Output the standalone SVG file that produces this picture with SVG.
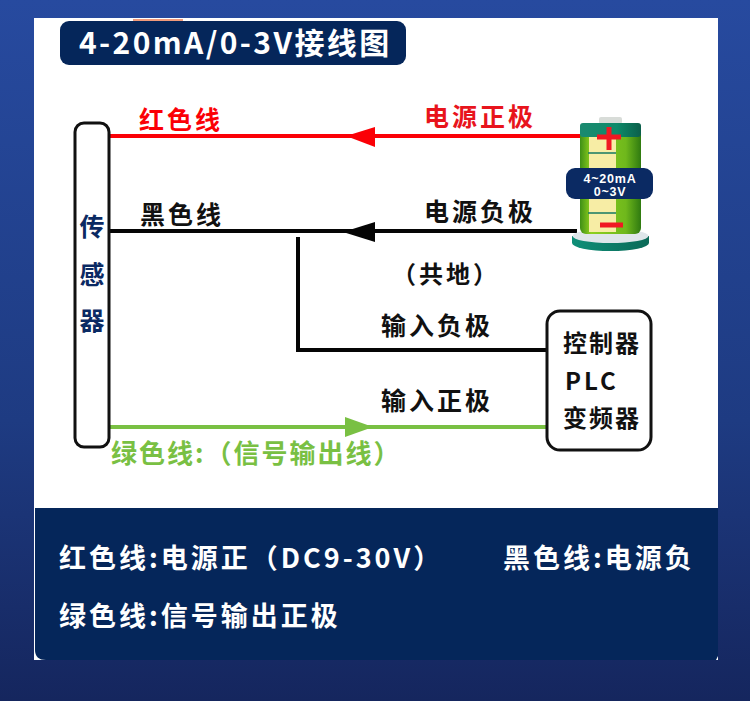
<svg xmlns="http://www.w3.org/2000/svg" width="750" height="701" viewBox="0 0 750 701">
<defs>
<linearGradient id="bg" x1="0" y1="0" x2="0" y2="1"><stop offset="0" stop-color="#274a9f"/><stop offset="0.6" stop-color="#1e3b82"/><stop offset="1" stop-color="#15265e"/></linearGradient>
<linearGradient id="body" x1="0" y1="0" x2="1" y2="0"><stop offset="0" stop-color="#3f8f16"/><stop offset="0.18" stop-color="#8fd01e"/><stop offset="0.75" stop-color="#6fb81c"/><stop offset="1" stop-color="#2f7a10"/></linearGradient>
<linearGradient id="cap" x1="0" y1="0" x2="1" y2="0"><stop offset="0" stop-color="#1b8a70"/><stop offset="0.6" stop-color="#0e8a6a"/><stop offset="1" stop-color="#0b5f4a"/></linearGradient>
<linearGradient id="base" x1="0" y1="0" x2="1" y2="0"><stop offset="0" stop-color="#0f8f78"/><stop offset="1" stop-color="#0b6a58"/></linearGradient>
<style>
text{font-family:"Noto Sans CJK SC","Liberation Sans",sans-serif;font-weight:700}
.w{fill:#fff}.k{fill:#111}.n{fill:#0b2a63}.l{font-size:25px;letter-spacing:3px}
.b{font-size:27px;letter-spacing:3px;fill:#fff}
.wire{fill:none;stroke-width:4}
</style>
</defs>
<rect width="750" height="701" fill="url(#bg)"/>
<rect x="34" y="18" width="684" height="642" fill="#fff"/>
<rect x="133" y="19" width="50" height="2" fill="#f09a7a"/>
<g id="title"><rect x="60" y="21" width="346" height="44" rx="9" fill="#05265a"/><text x="79" y="54" class="w" font-size="30" letter-spacing="2.4">4-20mA/0-3V接线图</text></g>
<g id="connectors">
<path class="wire" d="M110 136H582" stroke="#fb0006"/><path d="M375 127V147L346 136Z" fill="#fb0006"/>
<path class="wire" d="M110 231H577" stroke="#050505"/><path d="M375 222V242L343 232Z" fill="#050505"/>
<path class="wire" d="M298 237V350H546" stroke="#050505"/>
<path class="wire" d="M110 427H546" stroke="#79c043"/><path d="M345 417V437L373 427Z" fill="#79c043"/>
</g>
<g id="sensor"><rect x="75" y="123" width="34" height="324" rx="9" fill="#fff" stroke="#111" stroke-width="3"/><text class="n" font-size="25"><tspan x="79.500" y="236">传</tspan><tspan x="79.500" y="284">感</tspan><tspan x="79.500" y="330">器</tspan></text></g>
<g id="battery">
<ellipse cx="610.500" cy="243" rx="38.500" ry="8" fill="url(#base)"/><rect x="572" y="236" width="77" height="7" fill="url(#base)"/><ellipse cx="610.500" cy="236" rx="38" ry="7" fill="#dfe6ea"/>
<rect x="599" y="117" width="23" height="7" rx="2" fill="#d8dcd8"/>
<rect x="580" y="123" width="61" height="111" rx="6" fill="url(#body)"/>
<rect x="580" y="123" width="61" height="14" rx="3" fill="url(#cap)"/>
<rect x="589" y="137" width="27" height="95" fill="#f7eda5"/>
<path d="M588 153H616M588 213H616" stroke="#167a63" stroke-width="1.500"/>
<path d="M597 137H621M609 127V150M600 225H623" stroke="#f01822" stroke-width="5" fill="none"/>
<rect x="566" y="168" width="87" height="31" rx="9" fill="#0b2a63"/>
<text class="w" x="610" y="183" font-size="12.500" text-anchor="middle" letter-spacing="0.800" style="font-family:'Liberation Sans',sans-serif">4~20mA</text>
<text class="w" x="610" y="196" font-size="12.500" text-anchor="middle" letter-spacing="0.800" style="font-family:'Liberation Sans',sans-serif">0~3V</text>
</g>
<g id="controller"><rect x="547" y="311" width="104" height="139" rx="13" fill="#fff" stroke="#111" stroke-width="3"/><text class="k" font-size="24" letter-spacing="2"><tspan x="563" y="352">控制器</tspan><tspan x="565" y="390" letter-spacing="3">PLC</tspan><tspan x="563" y="427">变频器</tspan></text></g>
<g id="labels">
<text x="139" y="129" class="l" fill="#fb0006">红色线</text>
<text x="424" y="126" class="l" fill="#e8141c">电源正极</text>
<text x="140" y="224" class="l k">黑色线</text>
<text x="424" y="221" class="l k">电源负极</text>
<text x="392" y="283" class="l k" style="font-size:24px">（共地）</text>
<text x="381" y="335" class="l k">输入负极</text>
<text x="381" y="410" class="l k">输入正极</text>
<text x="111" y="463" fill="#79c043" font-size="26" letter-spacing="2">绿色线:（信号输出线）</text>
</g>
<g id="legend"><path d="M35 508H718V656L716 660H46Q35 660 35 650Z" fill="#05265a"/>
<text x="59" y="568" class="b">红色线:电源正（DC9-30V）</text>
<text x="503" y="568" class="b">黑色线:电源负</text>
<text x="59" y="626" class="b">绿色线:信号输出正极</text></g>
</svg>
